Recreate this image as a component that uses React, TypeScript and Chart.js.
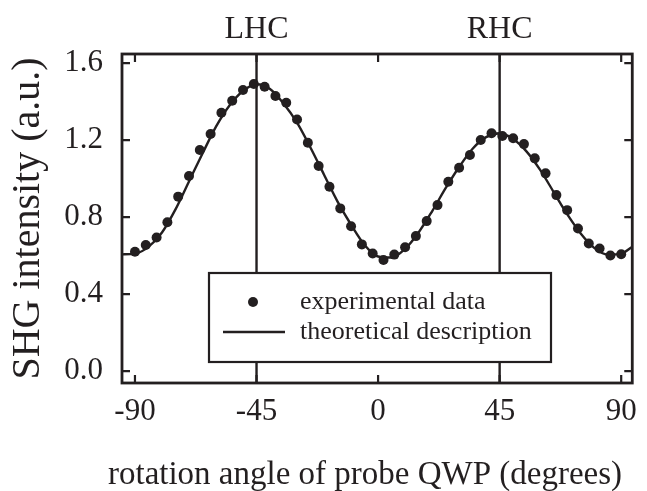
import React, { useEffect, useRef } from "react";
import { Chart, registerables } from "chart.js";

Chart.register(...registerables);

// ---- data ----
const dataAngles = [
  -90, -86, -82, -78, -74, -70, -66, -62, -58, -54, -50, -46, -42, -38, -34, -30,
  -26, -22, -18, -14, -10, -6, -2, 2, 6, 10, 14, 18, 22, 26, 30, 34, 38, 42, 46,
  50, 54, 58, 62, 66, 70, 74, 78, 82, 86, 90,
];
const dataValues = [
  0.62, 0.655, 0.694, 0.773, 0.906, 1.013, 1.148, 1.231, 1.342, 1.404, 1.46, 1.491,
  1.477, 1.429, 1.394, 1.307, 1.186, 1.065, 0.957, 0.845, 0.752, 0.658, 0.611,
  0.577, 0.605, 0.643, 0.701, 0.779, 0.862, 0.983, 1.056, 1.122, 1.2, 1.235, 1.221,
  1.209, 1.179, 1.105, 1.027, 0.914, 0.836, 0.741, 0.663, 0.637, 0.6, 0.607,
];
const fitAngles = [
  -95, -90, -85, -80, -75, -70, -65, -60, -55, -50, -45, -40, -35, -30, -25, -20,
  -15, -10, -5, 0, 5, 10, 15, 20, 25, 30, 35, 40, 45, 50, 55, 60, 65, 70, 75, 80,
  85, 90, 94,
];
const fitValues = [
  0.606, 0.61, 0.645, 0.72, 0.84, 0.985, 1.13, 1.27, 1.38, 1.455, 1.49, 1.465,
  1.39, 1.29, 1.16, 1.02, 0.88, 0.76, 0.655, 0.595, 0.59, 0.635, 0.72, 0.83, 0.95,
  1.06, 1.155, 1.215, 1.235, 1.205, 1.14, 1.045, 0.93, 0.815, 0.715, 0.64, 0.605,
  0.61, 0.645,
];
const xTicks = [-90, -45, 0, 45, 90];
const yTicks = [0, 0.4, 0.8, 1.2, 1.6];
const markerAngles = [-45, 45];
const markerLabels = ["LHC", "RHC"];
const legendLabels = ["experimental data", "theoretical description"];
const xTitle = "rotation angle of probe QWP (degrees)";
const yTitle = "SHG intensity (a.u.)";

const INK = "#231f20";
const FAMILY = "'Liberation Serif', 'Times New Roman', serif";

const overlay = {
  id: "overlay",
  beforeDatasetsDraw(chart: any) {
    const { ctx, chartArea, scales } = chart;
    ctx.save();
    ctx.strokeStyle = INK;
    ctx.lineWidth = 2.4;
    markerAngles.forEach((a) => {
      const x = scales.x.getPixelForValue(a);
      ctx.beginPath();
      ctx.moveTo(x, chartArea.top);
      ctx.lineTo(x, chartArea.bottom);
      ctx.stroke();
    });
    ctx.restore();
  },
  afterDatasetsDraw(chart: any) {
    const { ctx, chartArea, scales } = chart;
    const { left, right, top, bottom } = chartArea;
    ctx.save();
    // legend box
    const lx = 209, ly = 273, lw = 342, lh = 89;
    ctx.fillStyle = "#ffffff";
    ctx.fillRect(lx, ly, lw, lh);
    ctx.strokeStyle = INK;
    ctx.lineWidth = 2.2;
    ctx.strokeRect(lx, ly, lw, lh);
    ctx.fillStyle = INK;
    ctx.beginPath();
    ctx.arc(253, 302, 5, 0, Math.PI * 2);
    ctx.fill();
    ctx.lineWidth = 2.4;
    ctx.beginPath();
    ctx.moveTo(223, 332);
    ctx.lineTo(285, 332);
    ctx.stroke();
    ctx.font = `26px ${FAMILY}`;
    ctx.textAlign = "left";
    ctx.textBaseline = "middle";
    ctx.fillText(legendLabels[0], 300, 302);
    ctx.fillText(legendLabels[1], 300, 332);

    // frame
    ctx.lineWidth = 2.8;
    ctx.strokeRect(left, top, right - left, bottom - top);
    // inward ticks
    ctx.lineWidth = 2.2;
    const tl = 8;
    xTicks.forEach((v) => {
      const x = scales.x.getPixelForValue(v);
      ctx.beginPath();
      ctx.moveTo(x, top);
      ctx.lineTo(x, top + tl);
      ctx.moveTo(x, bottom);
      ctx.lineTo(x, bottom - tl);
      ctx.stroke();
    });
    yTicks.forEach((v) => {
      const y = scales.y.getPixelForValue(v);
      ctx.beginPath();
      ctx.moveTo(left, y);
      ctx.lineTo(left + tl, y);
      ctx.moveTo(right, y);
      ctx.lineTo(right - tl, y);
      ctx.stroke();
    });
    // marker labels
    ctx.font = `32px ${FAMILY}`;
    ctx.textAlign = "center";
    ctx.textBaseline = "alphabetic";
    markerAngles.forEach((a, i) => {
      ctx.fillText(markerLabels[i], scales.x.getPixelForValue(a), 38);
    });
    // x-axis title
    ctx.font = `33px ${FAMILY}`;
    ctx.fillText(xTitle, 365, 484);
    ctx.restore();
  },
};

export default function App() {
  const ref = useRef<HTMLCanvasElement>(null);
  useEffect(() => {
    if (!ref.current) return;
    const chart = new Chart(ref.current, {
      type: "scatter",
      data: {
        datasets: [
          {
            label: legendLabels[0],
            data: dataAngles.map((x, i) => ({ x, y: dataValues[i] })),
            pointRadius: 5,
            pointBackgroundColor: INK,
            pointBorderWidth: 0,
            showLine: false,
            order: 0,
          } as any,
          {
            type: "line",
            label: legendLabels[1],
            data: fitAngles.map((x, i) => ({ x, y: fitValues[i] })),
            borderColor: INK,
            borderWidth: 2.4,
            pointRadius: 0,
            cubicInterpolationMode: "monotone",
            fill: false,
            showLine: true,
            order: 1,
          } as any,
        ],
      },
      options: {
        animation: false,
        responsive: false,
        devicePixelRatio: 1,
        layout: { padding: { top: 54, right: 14, bottom: 0, left: 0 } },
        plugins: { legend: { display: false }, tooltip: { enabled: false } },
        scales: {
          x: {
            type: "linear",
            min: -94.8,
            max: 94.1,
            afterBuildTicks: (s: any) => {
              s.ticks = xTicks.map((v) => ({ value: v }));
            },
            afterFit: (s: any) => {
              s.height = 108;
            },
            grid: { display: false, drawTicks: false },
            border: { display: false },
            ticks: {
              padding: 10,
              color: INK,
              font: { family: FAMILY, size: 31 },
              callback: (v: any) => String(v),
              maxRotation: 0,
            },
            title: { display: false, text: xTitle },
          },
          y: {
            type: "linear",
            min: -0.062,
            max: 1.647,
            afterBuildTicks: (s: any) => {
              s.ticks = yTicks.map((v) => ({ value: v }));
            },
            afterFit: (s: any) => {
              s.width = 122;
            },
            grid: { display: false, drawTicks: false },
            border: { display: false },
            ticks: {
              padding: 19,
              color: INK,
              font: { family: FAMILY, size: 31 },
              callback: (v: any) => Number(v).toFixed(1),
            },
            title: {
              display: true,
              text: yTitle,
              color: INK,
              font: { family: FAMILY, size: 40 },
              padding: { top: 4, bottom: 0 },
            },
          },
        },
      },
      plugins: [overlay],
    });
    return () => chart.destroy();
  }, []);
  return (
    <div style={{ position: "fixed", left: 0, top: 0, width: 647, height: 491, background: "#fff" }}>
      <canvas ref={ref} width={647} height={491} style={{ display: "block" }} />
    </div>
  );
}
